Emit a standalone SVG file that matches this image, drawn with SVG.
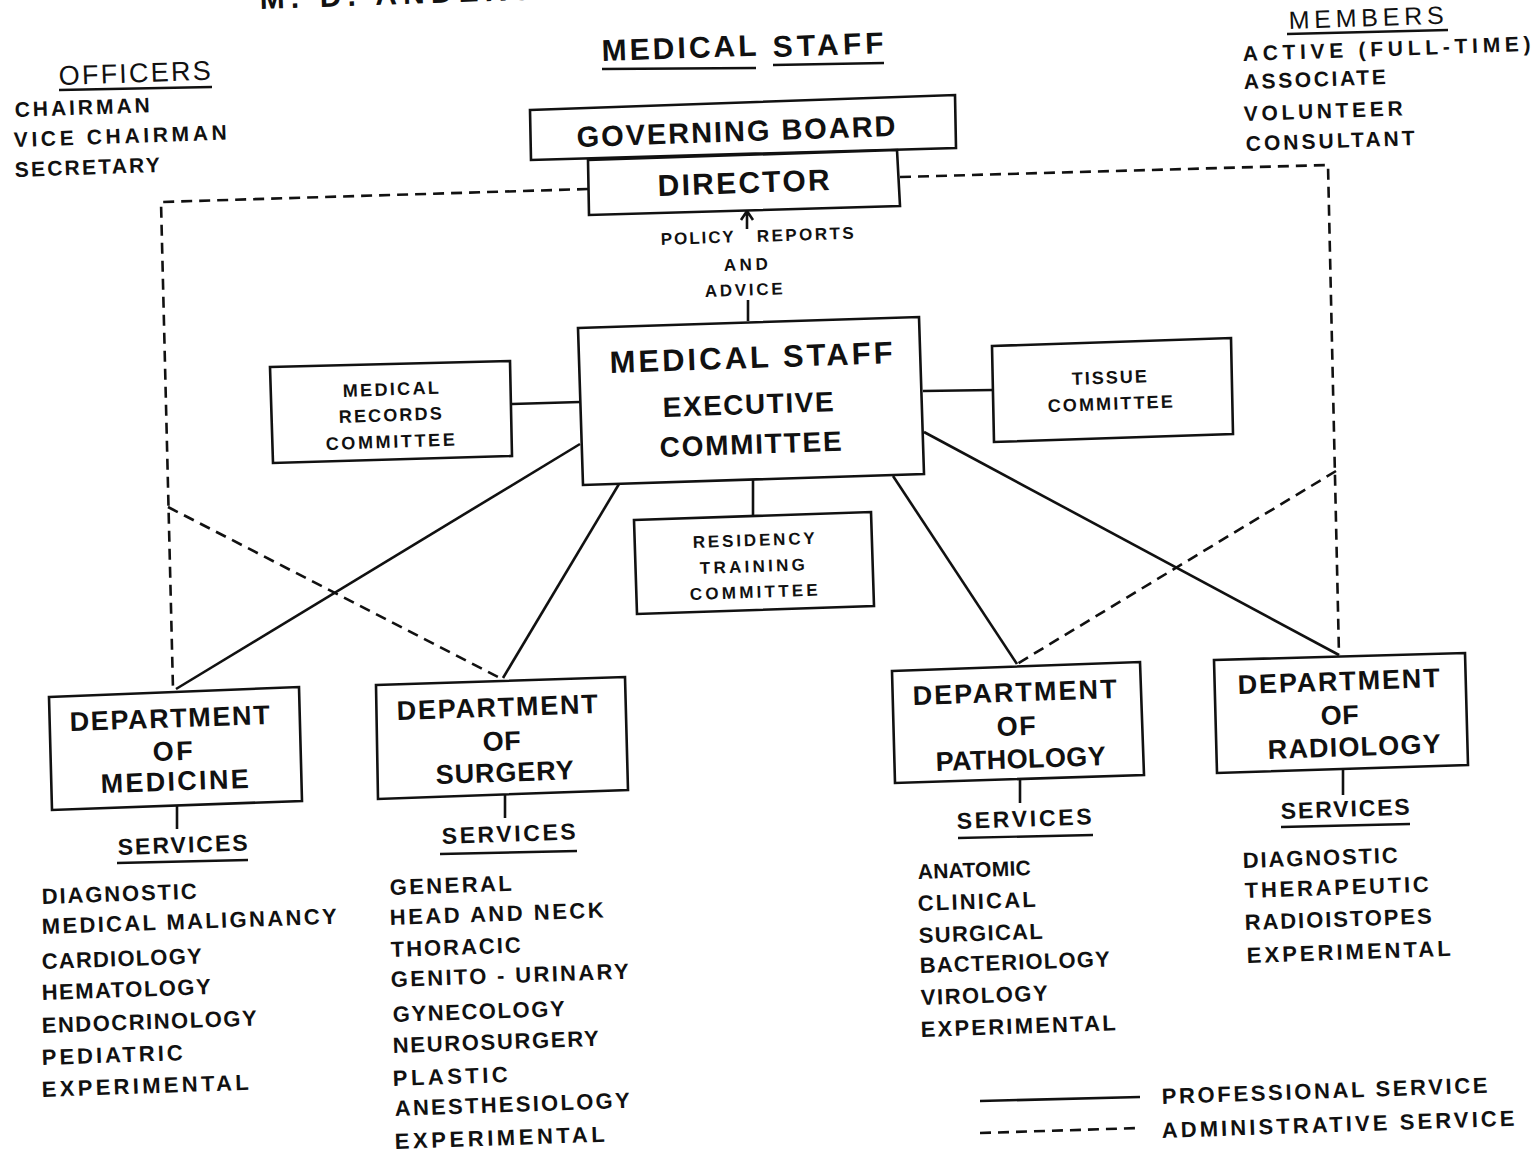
<svg xmlns="http://www.w3.org/2000/svg" width="1539" height="1155" viewBox="0 0 1539 1155">
<style>
text{font-family:"Liberation Sans",Arial,sans-serif;font-weight:bold;fill:#111}
.n{font-weight:normal}
.box{fill:#fff;stroke:#111;stroke-width:2.6;stroke-linejoin:miter}
.s{fill:none;stroke:#111;stroke-width:2.6}
.d{fill:none;stroke:#111;stroke-width:2.6;stroke-dasharray:11 7}
.u{fill:none;stroke:#111;stroke-width:2.4}
.f30{font-size:30px}.dp{font-size:27px}.f22{font-size:23px}.f20{font-size:22px}.f21{font-size:21px}.f18{font-size:18px}.f17{font-size:17px}
</style>
<rect width="1539" height="1155" fill="#fff"/>

<g id="header">
<text class="f30" x="260" y="9" textLength="330" lengthAdjust="spacing" transform="rotate(-2 260 9)">M. D.  ANDERSON</text>
<text class="f30" x="602" y="61" textLength="155" lengthAdjust="spacing" transform="rotate(-2 602 61)">MEDICAL</text>
<text class="f30" x="773" y="57" textLength="111" lengthAdjust="spacing" transform="rotate(-2 773 57)">STAFF</text>
<path class="u" d="M602,69 L756,68 M773,65 L884,63"/>
</g>

<g id="officers">
<text class="n" x="59" y="85" font-size="27" textLength="152" lengthAdjust="spacing" transform="rotate(-2 59 85)">OFFICERS</text>
<path class="u" d="M59,90 L212,87"/>
<text class="f21" x="15" y="117" textLength="135" lengthAdjust="spacing" transform="rotate(-2 15 117)">CHAIRMAN</text>
<text class="f21" x="14" y="147" textLength="213" lengthAdjust="spacing" transform="rotate(-2 14 147)">VICE  CHAIRMAN</text>
<text class="f21" x="15" y="177" textLength="145" lengthAdjust="spacing" transform="rotate(-2 15 177)">SECRETARY</text>
</g>

<g id="members">
<text class="n" x="1289" y="29" font-size="25" textLength="155" lengthAdjust="spacing" transform="rotate(-2 1289 29)">MEMBERS</text>
<path class="u" d="M1287,34 L1448,30"/>
<text class="f21" x="1243" y="61" textLength="288" lengthAdjust="spacing" transform="rotate(-2 1243 61)">ACTIVE  (FULL-TIME)</text>
<text class="f21" x="1244" y="89" textLength="142" lengthAdjust="spacing" transform="rotate(-2 1244 89)">ASSOCIATE</text>
<text class="f21" x="1244" y="121" textLength="159" lengthAdjust="spacing" transform="rotate(-2 1244 121)">VOLUNTEER</text>
<text class="f21" x="1246" y="151" textLength="169" lengthAdjust="spacing" transform="rotate(-2 1246 151)">CONSULTANT</text>
</g>

<g id="connectors">
<path class="d" d="M588,189 L161,202 L173,689"/>
<path class="d" d="M168,507 L502,679"/>
<path class="d" d="M900,177 L1328,165 L1339,655"/>
<path class="d" d="M1336,471 L1017,664"/>
<path class="s" d="M580,444 L176,689"/>
<path class="s" d="M619,484 L503,678"/>
<path class="s" d="M893,476 L1017,664"/>
<path class="s" d="M924,432 L1339,655"/>
<path class="s" d="M512,404 L580,402"/>
<path class="s" d="M923,391 L993,390"/>
<path class="s" d="M753,480 L753,517"/>
<path class="s" d="M748,300 L748,321"/>
<path class="s" d="M747,213 L747,229 M741,220 L747,211 L753,220"/>
<path class="s" d="M177,805 L177,829"/>
<path class="s" d="M505,795 L505,818"/>
<path class="s" d="M1020,779 L1020,803"/>
<path class="s" d="M1343,769 L1343,795"/>
</g>

<g id="governing-board">
<polygon class="box" points="530,110 955,95 956,148 531,160"/>
<text x="577" y="147" font-size="29" textLength="319" lengthAdjust="spacing" transform="rotate(-2 577 147)">GOVERNING  BOARD</text>
</g>

<g id="director">
<polygon class="box" points="588,160 897,150 900,206 589,215"/>
<text x="658" y="196" font-size="30" textLength="172" lengthAdjust="spacing" transform="rotate(-2 658 196)">DIRECTOR</text>
</g>

<g id="policy-label">
<text class="f17" x="661" y="245" textLength="73" lengthAdjust="spacing" transform="rotate(-2 661 245)">POLICY</text>
<text class="f17" x="757" y="242" textLength="97" lengthAdjust="spacing" transform="rotate(-2 757 242)">REPORTS</text>
<text class="f17" x="724" y="271" textLength="44" lengthAdjust="spacing" transform="rotate(-2 724 271)">AND</text>
<text class="f17" x="705" y="297" textLength="78" lengthAdjust="spacing" transform="rotate(-2 705 297)">ADVICE</text>
</g>

<g id="exec-committee">
<polygon class="box" points="578,328 919,317 924,474 583,485"/>
<text x="610" y="373" font-size="31" textLength="283" lengthAdjust="spacing" transform="rotate(-2 610 373)">MEDICAL  STAFF</text>
<text x="663" y="417" font-size="28" textLength="171" lengthAdjust="spacing" transform="rotate(-2 663 417)">EXECUTIVE</text>
<text x="660" y="457" font-size="28" textLength="182" lengthAdjust="spacing" transform="rotate(-2 660 457)">COMMITTEE</text>
</g>

<g id="medical-records">
<polygon class="box" points="270,367 510,361 512,456 273,463"/>
<text class="f18" x="343" y="397" textLength="96" lengthAdjust="spacing" transform="rotate(-2 343 397)">MEDICAL</text>
<text class="f18" x="339" y="423" textLength="103" lengthAdjust="spacing" transform="rotate(-2 339 423)">RECORDS</text>
<text class="f18" x="326" y="450" textLength="129" lengthAdjust="spacing" transform="rotate(-2 326 450)">COMMITTEE</text>
</g>

<g id="tissue">
<polygon class="box" points="992,346 1231,338 1233,434 994,442"/>
<text class="f18" x="1072" y="385" textLength="75" lengthAdjust="spacing" transform="rotate(-2 1072 385)">TISSUE</text>
<text class="f18" x="1048" y="412" textLength="125" lengthAdjust="spacing" transform="rotate(-2 1048 412)">COMMITTEE</text>
</g>

<g id="residency">
<polygon class="box" points="634,520 871,512 874,606 637,614"/>
<text class="f17" x="693" y="548" textLength="122" lengthAdjust="spacing" transform="rotate(-2 693 548)">RESIDENCY</text>
<text class="f17" x="700" y="574" textLength="105" lengthAdjust="spacing" transform="rotate(-2 700 574)">TRAINING</text>
<text class="f17" x="690" y="600" textLength="128" lengthAdjust="spacing" transform="rotate(-2 690 600)">COMMITTEE</text>
</g>

<g id="dept-medicine">
<polygon class="box" points="49,697 299,687 302,801 52,810"/>
<text class="dp" x="70" y="731" textLength="200" lengthAdjust="spacing" transform="rotate(-2 70 731)">DEPARTMENT</text>
<text class="dp" x="153" y="761" textLength="40" lengthAdjust="spacing" transform="rotate(-2 153 761)">OF</text>
<text class="dp" x="101" y="793" textLength="148" lengthAdjust="spacing" transform="rotate(-2 101 793)">MEDICINE</text>
<text class="f22" x="118" y="855" textLength="130" lengthAdjust="spacing" transform="rotate(-2 118 855)">SERVICES</text>
<path class="u" d="M117,863 L248,860"/>
<text class="f20" x="42" y="904" textLength="155" lengthAdjust="spacing" transform="rotate(-2 42 904)">DIAGNOSTIC</text>
<text class="f20" x="42" y="934" textLength="295" lengthAdjust="spacing" transform="rotate(-2 42 934)">MEDICAL  MALIGNANCY</text>
<text class="f20" x="42" y="969" textLength="160" lengthAdjust="spacing" transform="rotate(-2 42 969)">CARDIOLOGY</text>
<text class="f20" x="42" y="1000" textLength="169" lengthAdjust="spacing" transform="rotate(-2 42 1000)">HEMATOLOGY</text>
<text class="f20" x="42" y="1033" textLength="215" lengthAdjust="spacing" transform="rotate(-2 42 1033)">ENDOCRINOLOGY</text>
<text class="f20" x="42" y="1065" textLength="141" lengthAdjust="spacing" transform="rotate(-2 42 1065)">PEDIATRIC</text>
<text class="f20" x="42" y="1097" textLength="207" lengthAdjust="spacing" transform="rotate(-2 42 1097)">EXPERIMENTAL</text>
</g>

<g id="dept-surgery">
<polygon class="box" points="376,685 625,677 628,790 378,799"/>
<text class="dp" x="397" y="720" textLength="201" lengthAdjust="spacing" transform="rotate(-2 397 720)">DEPARTMENT</text>
<text class="dp" x="483" y="751" textLength="38" lengthAdjust="spacing" transform="rotate(-2 483 751)">OF</text>
<text class="dp" x="436" y="784" textLength="138" lengthAdjust="spacing" transform="rotate(-2 436 784)">SURGERY</text>
<text class="f22" x="442" y="844" textLength="134" lengthAdjust="spacing" transform="rotate(-2 442 844)">SERVICES</text>
<path class="u" d="M440,854 L577,851"/>
<text class="f20" x="390" y="895" textLength="122" lengthAdjust="spacing" transform="rotate(-2 390 895)">GENERAL</text>
<text class="f20" x="390" y="925" textLength="214" lengthAdjust="spacing" transform="rotate(-2 390 925)">HEAD  AND  NECK</text>
<text class="f20" x="391" y="957" textLength="130" lengthAdjust="spacing" transform="rotate(-2 391 957)">THORACIC</text>
<text class="f20" x="391" y="987" textLength="238" lengthAdjust="spacing" transform="rotate(-2 391 987)">GENITO - URINARY</text>
<text class="f20" x="393" y="1022" textLength="172" lengthAdjust="spacing" transform="rotate(-2 393 1022)">GYNECOLOGY</text>
<text class="f20" x="393" y="1053" textLength="206" lengthAdjust="spacing" transform="rotate(-2 393 1053)">NEUROSURGERY</text>
<text class="f20" x="393" y="1086" textLength="115" lengthAdjust="spacing" transform="rotate(-2 393 1086)">PLASTIC</text>
<text class="f20" x="395" y="1116" textLength="235" lengthAdjust="spacing" transform="rotate(-2 395 1116)">ANESTHESIOLOGY</text>
<text class="f20" x="395" y="1149" textLength="210" lengthAdjust="spacing" transform="rotate(-2 395 1149)">EXPERIMENTAL</text>
</g>

<g id="dept-pathology">
<polygon class="box" points="892,671 1140,662 1144,775 895,783"/>
<text class="dp" x="913" y="705" textLength="204" lengthAdjust="spacing" transform="rotate(-2 913 705)">DEPARTMENT</text>
<text class="dp" x="997" y="736" textLength="39" lengthAdjust="spacing" transform="rotate(-2 997 736)">OF</text>
<text class="dp" x="936" y="771" textLength="170" lengthAdjust="spacing" transform="rotate(-2 936 771)">PATHOLOGY</text>
<text class="f22" x="957" y="829" textLength="135" lengthAdjust="spacing" transform="rotate(-2 957 829)">SERVICES</text>
<path class="u" d="M958,838 L1093,835"/>
<text class="f21" x="918" y="879" textLength="113" lengthAdjust="spacing" transform="rotate(-2 918 879)">ANATOMIC</text>
<text class="f20" x="918" y="911" textLength="118" lengthAdjust="spacing" transform="rotate(-2 918 911)">CLINICAL</text>
<text class="f20" x="919" y="943" textLength="124" lengthAdjust="spacing" transform="rotate(-2 919 943)">SURGICAL</text>
<text class="f20" x="920" y="973" textLength="190" lengthAdjust="spacing" transform="rotate(-2 920 973)">BACTERIOLOGY</text>
<text class="f20" x="921" y="1005" textLength="127" lengthAdjust="spacing" transform="rotate(-2 921 1005)">VIROLOGY</text>
<text class="f20" x="921" y="1037" textLength="195" lengthAdjust="spacing" transform="rotate(-2 921 1037)">EXPERIMENTAL</text>
</g>

<g id="dept-radiology">
<polygon class="box" points="1214,660 1465,653 1468,765 1217,773"/>
<text class="dp" x="1238" y="694" textLength="202" lengthAdjust="spacing" transform="rotate(-2 1238 694)">DEPARTMENT</text>
<text class="dp" x="1321" y="725" textLength="38" lengthAdjust="spacing" transform="rotate(-2 1321 725)">OF</text>
<text class="dp" x="1268" y="759" textLength="173" lengthAdjust="spacing" transform="rotate(-2 1268 759)">RADIOLOGY</text>
<text class="f22" x="1281" y="819" textLength="129" lengthAdjust="spacing" transform="rotate(-2 1281 819)">SERVICES</text>
<path class="u" d="M1281,827 L1410,824"/>
<text class="f20" x="1243" y="868" textLength="155" lengthAdjust="spacing" transform="rotate(-2 1243 868)">DIAGNOSTIC</text>
<text class="f20" x="1245" y="898" textLength="184" lengthAdjust="spacing" transform="rotate(-2 1245 898)">THERAPEUTIC</text>
<text class="f20" x="1245" y="930" textLength="187" lengthAdjust="spacing" transform="rotate(-2 1245 930)">RADIOISTOPES</text>
<text class="f20" x="1247" y="963" textLength="204" lengthAdjust="spacing" transform="rotate(-2 1247 963)">EXPERIMENTAL</text>
</g>

<g id="legend">
<path class="s" d="M980,1101 L1140,1097"/>
<path class="d" d="M980,1133 L1140,1128"/>
<text class="f20" x="1162" y="1104" textLength="326" lengthAdjust="spacing" transform="rotate(-2 1162 1104)">PROFESSIONAL  SERVICE</text>
<text class="f20" x="1162" y="1138" textLength="353" lengthAdjust="spacing" transform="rotate(-2 1162 1138)">ADMINISTRATIVE  SERVICE</text>
</g>
</svg>
